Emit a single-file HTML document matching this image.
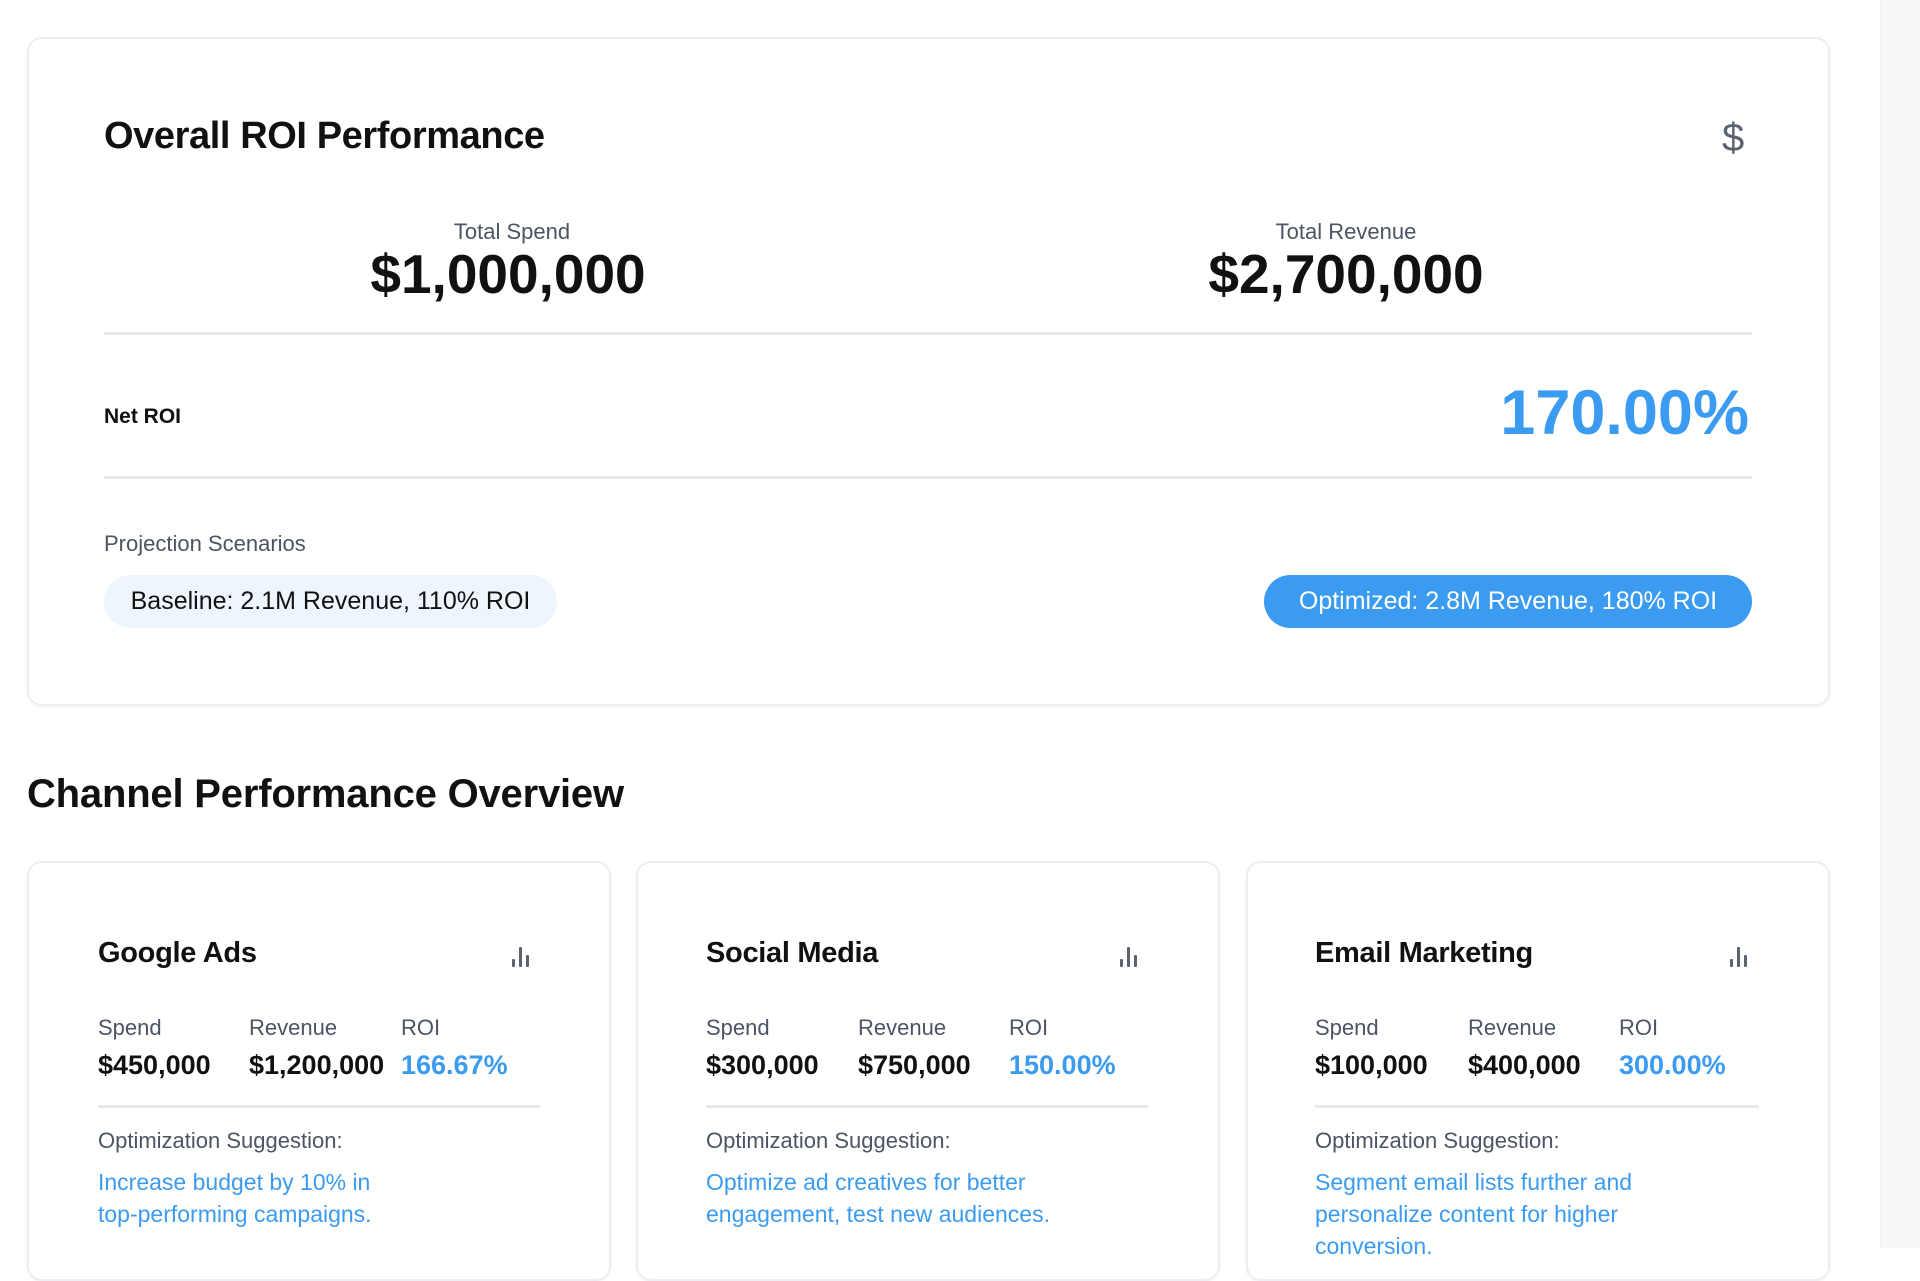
<!DOCTYPE html>
<html><head><meta charset="utf-8"><style>
*{margin:0;padding:0;box-sizing:border-box}
body{width:1920px;height:1248px;overflow:hidden;background:#fff;font-family:"Liberation Sans",Arial,sans-serif;position:relative}
.a{position:absolute;line-height:1;white-space:nowrap}
.card{position:absolute;border:2px solid #eceef1;border-radius:15px;background:#fff;box-shadow:0 1px 3px rgba(0,0,0,.05)}
.hr{position:absolute;height:3px;background:#e6e8eb}
.g{color:#4b5563}
.b{color:#3b9bf0}
.bars{position:absolute;width:20px;height:20px}
.bars i{position:absolute;bottom:0;width:3px;background:#5b6270;border-radius:1px}
</style></head><body>
<div style="position:absolute;left:1880px;top:0;width:40px;height:1248px;background:#f6f7f9;border-left:1px solid #eef0f2"></div>

<div class="card" style="left:27px;top:37px;width:1803px;height:669px"></div>
<div class="a" style="left:104px;top:117px;font-size:38px;font-weight:700;color:#111;letter-spacing:-0.4px">Overall ROI Performance</div>
<div class="a" style="left:1722px;top:118px;font-size:40px;color:#5b6270">$</div>
<div class="a g" style="left:412px;width:200px;text-align:center;top:221px;font-size:22px">Total Spend</div>
<div class="a" style="left:348px;width:320px;text-align:center;top:247px;font-size:55px;font-weight:700;color:#111">$1,000,000</div>
<div class="a g" style="left:1246px;width:200px;text-align:center;top:221px;font-size:22px">Total Revenue</div>
<div class="a" style="left:1166px;width:360px;text-align:center;top:247px;font-size:55px;font-weight:700;color:#111">$2,700,000</div>
<div class="hr" style="left:104px;top:332px;width:1648px"></div>
<div class="a" style="left:104px;top:406px;font-size:21px;font-weight:700;color:#111">Net ROI</div>
<div class="a b" style="right:171px;top:382px;font-size:63px;font-weight:700">170.00%</div>
<div class="hr" style="left:104px;top:476px;width:1648px"></div>
<div class="a g" style="left:104px;top:533px;font-size:22px">Projection Scenarios</div>
<div class="a" style="left:104px;top:575px;width:453px;height:53px;border-radius:27px;background:#eef5fd;color:#111;font-size:25px;line-height:53px;text-align:center">Baseline: 2.1M Revenue, 110% ROI</div>
<div class="a" style="left:1264px;top:575px;width:488px;height:53px;border-radius:27px;background:#3b9bf0;color:#fff;font-size:25px;line-height:53px;text-align:center">Optimized: 2.8M Revenue, 180% ROI</div>

<div class="a" style="left:27px;top:774px;font-size:40px;font-weight:700;color:#111;letter-spacing:-0.2px">Channel Performance Overview</div>

<div class="card" style="left:27px;top:861px;width:584px;height:420px"></div>
<div class="card" style="left:636px;top:861px;width:584px;height:420px"></div>
<div class="card" style="left:1246px;top:861px;width:584px;height:420px"></div>

<!-- card 1 -->
<div class="a" style="left:98px;top:939px;font-size:29px;font-weight:700;color:#111;letter-spacing:-0.3px">Google Ads</div>
<div class="bars" style="left:512px;top:947px"><i style="left:0;height:8px"></i><i style="left:7px;height:20px"></i><i style="left:14px;height:12px"></i></div>
<div class="a g" style="left:98px;top:1017px;font-size:22px">Spend</div>
<div class="a g" style="left:249px;top:1017px;font-size:22px">Revenue</div>
<div class="a g" style="left:401px;top:1017px;font-size:22px">ROI</div>
<div class="a" style="left:98px;top:1052px;font-size:27px;font-weight:700;color:#111">$450,000</div>
<div class="a" style="left:249px;top:1052px;font-size:27px;font-weight:700;color:#111">$1,200,000</div>
<div class="a b" style="left:401px;top:1052px;font-size:27px;font-weight:700">166.67%</div>
<div class="hr" style="left:98px;top:1105px;width:442px"></div>
<div class="a g" style="left:98px;top:1130px;font-size:22px">Optimization Suggestion:</div>
<div class="a b" style="left:98px;top:1166px;font-size:23px;line-height:32px">Increase budget by 10% in<br>top-performing campaigns.</div>

<!-- card 2 -->
<div class="a" style="left:706px;top:939px;font-size:29px;font-weight:700;color:#111;letter-spacing:-0.3px">Social Media</div>
<div class="bars" style="left:1120px;top:947px"><i style="left:0;height:8px"></i><i style="left:7px;height:20px"></i><i style="left:14px;height:12px"></i></div>
<div class="a g" style="left:706px;top:1017px;font-size:22px">Spend</div>
<div class="a g" style="left:858px;top:1017px;font-size:22px">Revenue</div>
<div class="a g" style="left:1009px;top:1017px;font-size:22px">ROI</div>
<div class="a" style="left:706px;top:1052px;font-size:27px;font-weight:700;color:#111">$300,000</div>
<div class="a" style="left:858px;top:1052px;font-size:27px;font-weight:700;color:#111">$750,000</div>
<div class="a b" style="left:1009px;top:1052px;font-size:27px;font-weight:700">150.00%</div>
<div class="hr" style="left:706px;top:1105px;width:442px"></div>
<div class="a g" style="left:706px;top:1130px;font-size:22px">Optimization Suggestion:</div>
<div class="a b" style="left:706px;top:1166px;font-size:23px;line-height:32px">Optimize ad creatives for better<br>engagement, test new audiences.</div>

<!-- card 3 -->
<div class="a" style="left:1315px;top:939px;font-size:29px;font-weight:700;color:#111;letter-spacing:-0.3px">Email Marketing</div>
<div class="bars" style="left:1730px;top:947px"><i style="left:0;height:8px"></i><i style="left:7px;height:20px"></i><i style="left:14px;height:12px"></i></div>
<div class="a g" style="left:1315px;top:1017px;font-size:22px">Spend</div>
<div class="a g" style="left:1468px;top:1017px;font-size:22px">Revenue</div>
<div class="a g" style="left:1619px;top:1017px;font-size:22px">ROI</div>
<div class="a" style="left:1315px;top:1052px;font-size:27px;font-weight:700;color:#111">$100,000</div>
<div class="a" style="left:1468px;top:1052px;font-size:27px;font-weight:700;color:#111">$400,000</div>
<div class="a b" style="left:1619px;top:1052px;font-size:27px;font-weight:700">300.00%</div>
<div class="hr" style="left:1315px;top:1105px;width:444px"></div>
<div class="a g" style="left:1315px;top:1130px;font-size:22px">Optimization Suggestion:</div>
<div class="a b" style="left:1315px;top:1166px;font-size:23px;line-height:32px">Segment email lists further and<br>personalize content for higher<br>conversion.</div>
</body></html>
